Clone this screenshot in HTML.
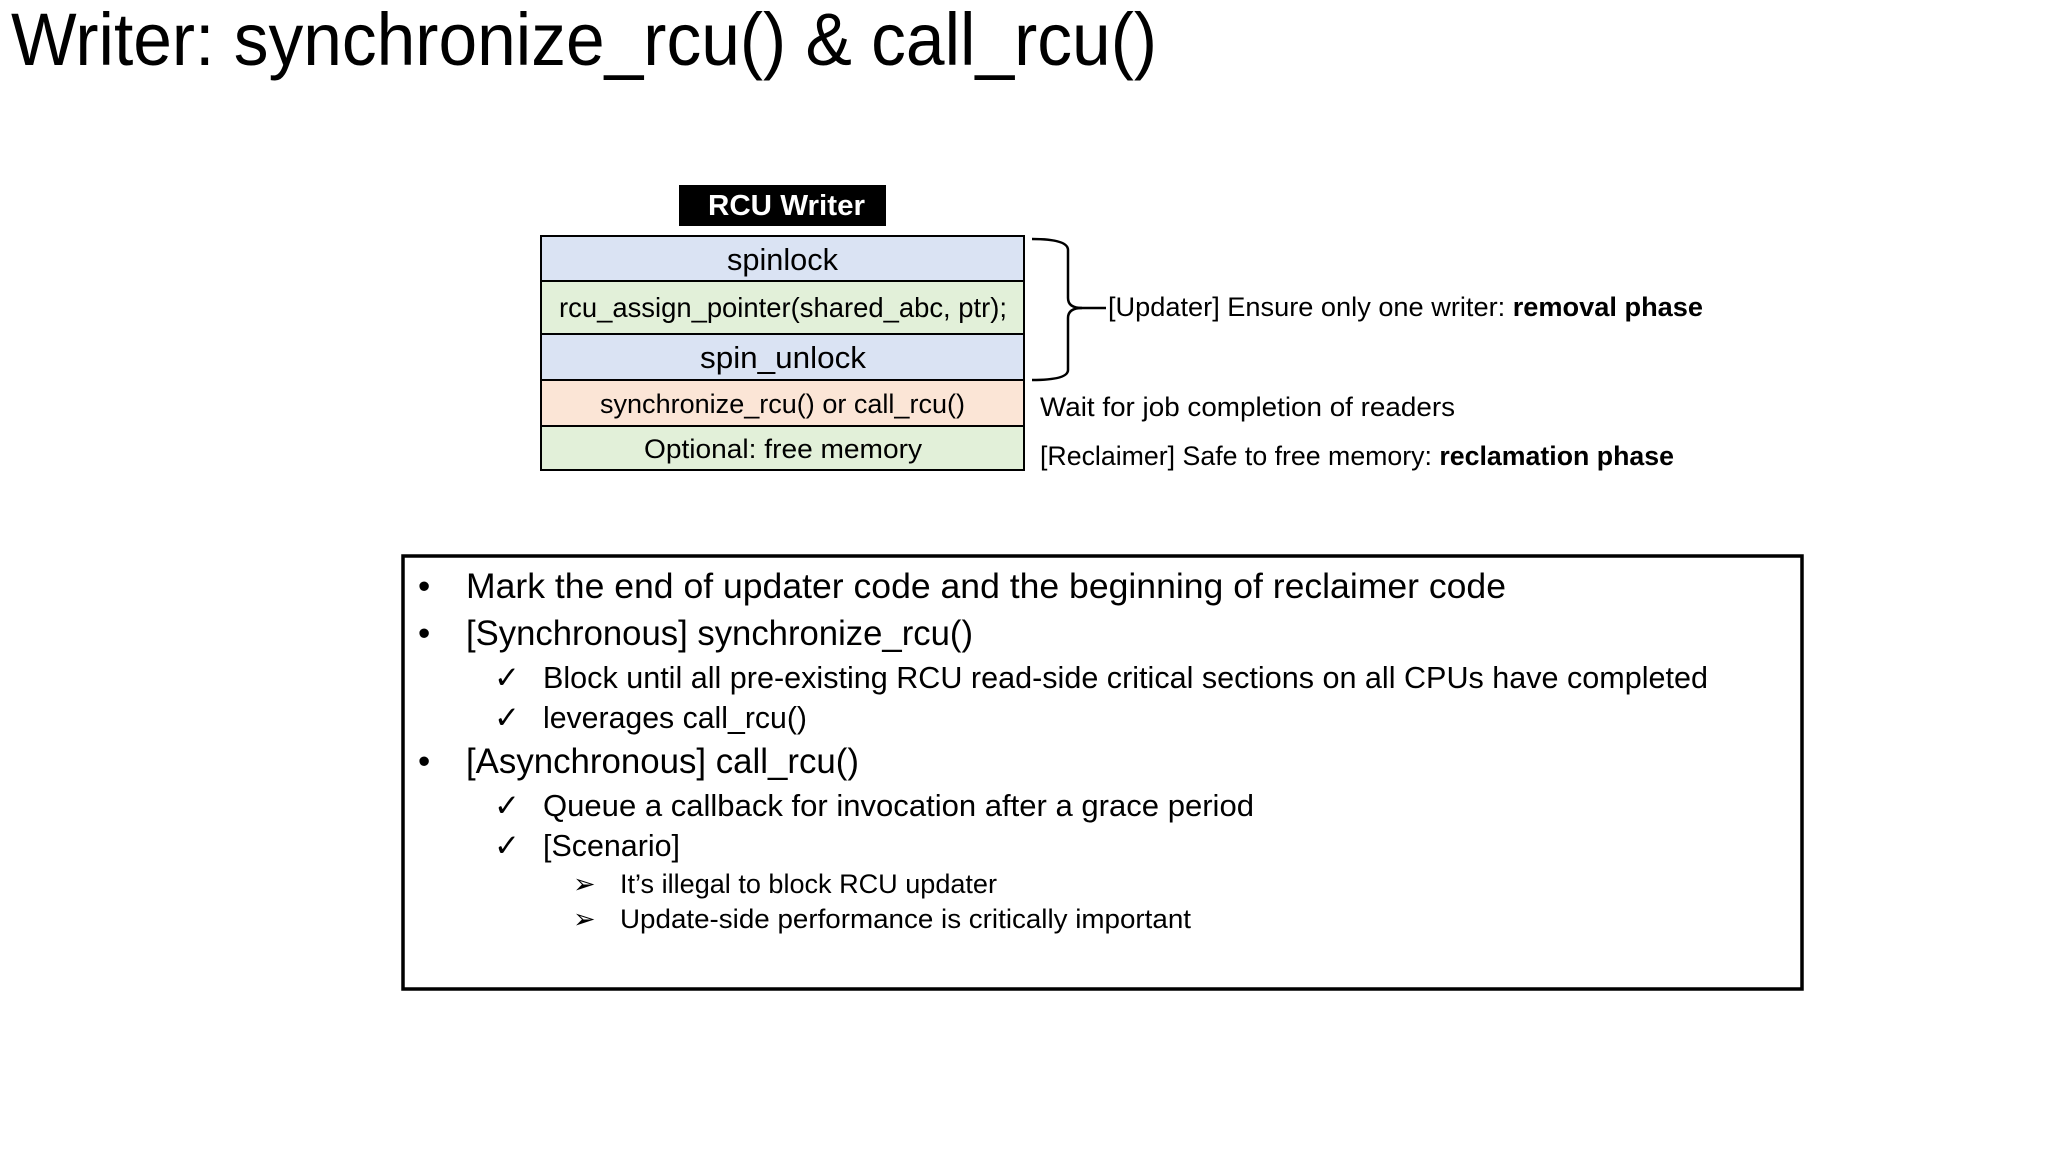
<!DOCTYPE html>
<html><head><meta charset="utf-8"><style>
html,body{margin:0;padding:0;background:#fff;}
svg{display:block;}
text{font-family:"Liberation Sans",sans-serif;fill:#000;}
</style></head><body>
<svg width="2048" height="1152" viewBox="0 0 2048 1152" xmlns="http://www.w3.org/2000/svg">
<rect width="2048" height="1152" fill="#fff"/>
<text x="11" y="65" font-size="74" textLength="1146" lengthAdjust="spacingAndGlyphs">Writer: synchronize_rcu() &amp; call_rcu()</text>

<rect x="679" y="185" width="207" height="41" fill="#000"/>
<text x="708" y="215" font-size="29" font-weight="bold" style="fill:#fff" textLength="157" lengthAdjust="spacingAndGlyphs">RCU Writer</text>

<g stroke="#000" stroke-width="2">
<rect x="541" y="236" width="483" height="45" fill="#dae3f3"/>
<rect x="541" y="281" width="483" height="53" fill="#e2f0d9"/>
<rect x="541" y="334" width="483" height="46" fill="#dae3f3"/>
<rect x="541" y="380" width="483" height="46" fill="#fbe5d6"/>
<rect x="541" y="426" width="483" height="44" fill="#e2f0d9"/>
</g>
<text x="727" y="270" font-size="31" textLength="111" lengthAdjust="spacingAndGlyphs">spinlock</text>
<text x="559" y="317" font-size="28" textLength="448" lengthAdjust="spacingAndGlyphs">rcu_assign_pointer(shared_abc, ptr);</text>
<text x="700" y="368" font-size="31" textLength="166" lengthAdjust="spacingAndGlyphs">spin_unlock</text>
<text x="600" y="413" font-size="27" textLength="365" lengthAdjust="spacingAndGlyphs">synchronize_rcu() or call_rcu()</text>
<text x="644" y="458" font-size="27" textLength="278" lengthAdjust="spacingAndGlyphs">Optional: free memory</text>

<path d="M1032 239 Q1068 239 1068 250 L1068 298 Q1068 308 1082 308 Q1068 308 1068 318 L1068 370 Q1068 380 1032 380" fill="none" stroke="#000" stroke-width="2.5"/>
<line x1="1078" y1="308" x2="1106" y2="308" stroke="#000" stroke-width="2.5"/>

<text x="1108" y="316" font-size="27" textLength="595" lengthAdjust="spacingAndGlyphs">[Updater] Ensure only one writer: <tspan font-weight="bold">removal phase</tspan></text>
<text x="1040" y="416" font-size="27" textLength="415" lengthAdjust="spacingAndGlyphs">Wait for job completion of readers</text>
<text x="1040" y="465" font-size="27" textLength="634" lengthAdjust="spacingAndGlyphs">[Reclaimer] Safe to free memory: <tspan font-weight="bold">reclamation phase</tspan></text>

<rect x="403" y="556" width="1399" height="433" fill="none" stroke="#000" stroke-width="3.5"/>

<g font-size="35">
<text x="418" y="598">•</text>
<text x="466" y="598" textLength="1040" lengthAdjust="spacingAndGlyphs">Mark the end of updater code and the beginning of reclaimer code</text>
<text x="418" y="645">•</text>
<text x="466" y="645" textLength="507" lengthAdjust="spacingAndGlyphs">[Synchronous] synchronize_rcu()</text>
<text x="418" y="773">•</text>
<text x="466" y="773" textLength="393" lengthAdjust="spacingAndGlyphs">[Asynchronous] call_rcu()</text>
</g>
<g font-size="31">
<text x="494" y="688" font-family="DejaVu Sans">✓</text>
<text x="543" y="688" textLength="1165" lengthAdjust="spacingAndGlyphs">Block until all pre-existing RCU read-side critical sections on all CPUs have completed</text>
<text x="494" y="728" font-family="DejaVu Sans">✓</text>
<text x="543" y="728" textLength="264" lengthAdjust="spacingAndGlyphs">leverages call_rcu()</text>
<text x="494" y="816" font-family="DejaVu Sans">✓</text>
<text x="543" y="816" textLength="711" lengthAdjust="spacingAndGlyphs">Queue a callback for invocation after a grace period</text>
<text x="494" y="856" font-family="DejaVu Sans">✓</text>
<text x="543" y="856" textLength="137" lengthAdjust="spacingAndGlyphs">[Scenario]</text>
</g>
<g font-size="27">
<text x="573" y="893" font-family="DejaVu Sans">➢</text>
<text x="620" y="893" textLength="377" lengthAdjust="spacingAndGlyphs">It’s illegal to block RCU updater</text>
<text x="573" y="928" font-family="DejaVu Sans">➢</text>
<text x="620" y="928" textLength="571" lengthAdjust="spacingAndGlyphs">Update-side performance is critically important</text>
</g>
</svg>
</body></html>
